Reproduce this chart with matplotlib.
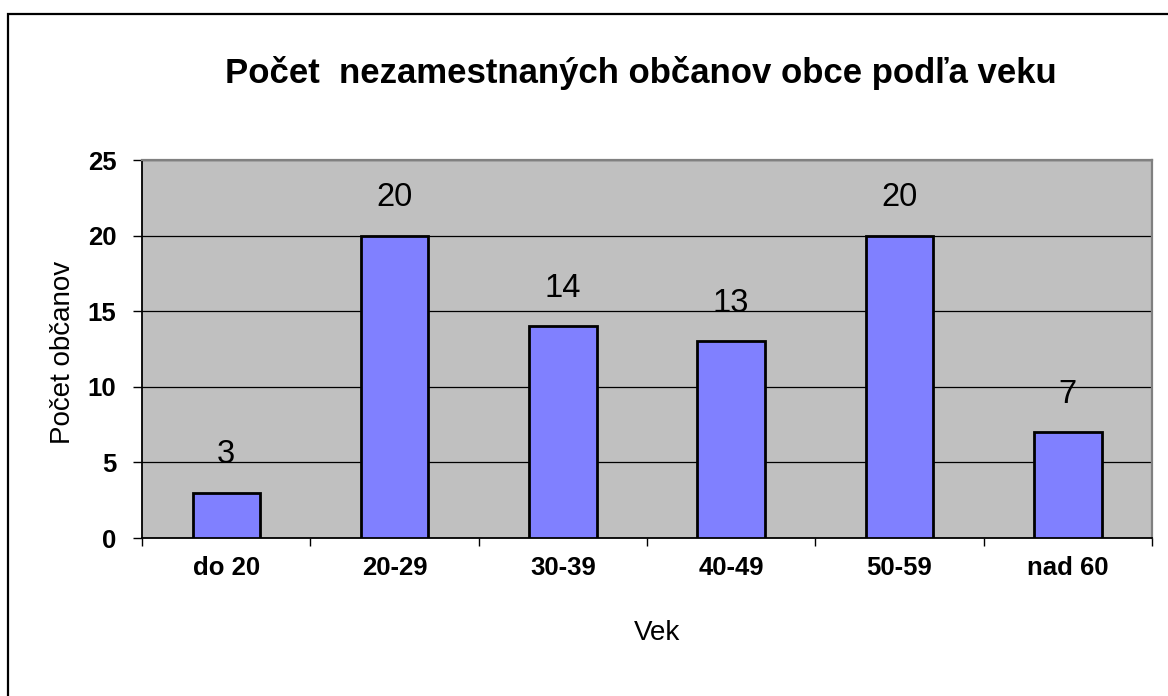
import matplotlib
matplotlib.use("Agg")
import matplotlib.pyplot as plt
from matplotlib.patches import Rectangle
from matplotlib.ticker import FixedLocator

categories = ["do 20", "20-29", "30-39", "40-49", "50-59", "nad 60"]
values = [3, 20, 14, 13, 20, 7]
y_ticks = [0, 5, 10, 15, 20, 25]
title = "Počet  nezamestnaných občanov obce podľa veku"
x_label = "Vek"
y_label = "Počet občanov"

plt.rcParams['font.family'] = ['Liberation Sans', 'DejaVu Sans']

W, H = 1168, 696
fig = plt.figure(figsize=(W / 100, H / 100), dpi=100)
fig.patch.set_facecolor('white')

# outer chart frame (extends past right/bottom edge)
fig.patches.append(Rectangle((8 / W, -0.5), 2.0, 1 - 14 / H + 0.5,
                             transform=fig.transFigure, fill=False,
                             edgecolor='black', linewidth=1.6, zorder=0))

left, right, top, bottom = 142, 1152, 160, 538
ax = fig.add_axes([left / W, 1 - bottom / H, (right - left) / W, (bottom - top) / H])
ax.set_facecolor('#C0C0C0')

x = list(range(len(categories)))
bars = ax.bar(x, values, width=0.4, color='#8080FF', edgecolor='black',
              linewidth=2.0, zorder=3)

for xi, v in zip(x, values):
    ax.annotate(str(v), (xi, v), xytext=(0, 21), textcoords='offset points',
                ha='center', va='baseline', fontsize=23.5, color='black', zorder=4)

ax.set_xlim(-0.5, len(categories) - 0.5)
ax.set_ylim(y_ticks[0], y_ticks[-1])
ax.set_yticks(y_ticks)
ax.set_yticklabels([str(t) for t in y_ticks], fontsize=18.5, fontweight='bold')
ax.set_xticks(x)
ax.set_xticklabels(categories, fontsize=18.5, fontweight='bold')
ax.xaxis.set_minor_locator(FixedLocator([i - 0.5 for i in range(len(categories) + 1)]))
ax.tick_params(axis='x', which='major', length=0, pad=13)
ax.tick_params(axis='x', which='minor', length=6, width=1.0, color='black', direction='out')
ax.tick_params(axis='y', which='major', length=6.5, width=1.0, color='black', pad=12, direction='out')

ax.yaxis.grid(True, color='black', linewidth=0.9, zorder=1)
ax.set_axisbelow(True)

for s in ['left', 'bottom']:
    ax.spines[s].set_color('black')
    ax.spines[s].set_linewidth(1.3)
for s in ['top', 'right']:
    ax.spines[s].set_color('#808080')
    ax.spines[s].set_linewidth(1.6)

fig.text(641 / W, 1 - 83 / H, title, ha='center', va='baseline',
         fontsize=25, fontweight='bold')
fig.text(657 / W, 1 - 633 / H, x_label, ha='center', va='center', fontsize=20)
fig.text(63 / W, 1 - 352 / H, y_label, ha='center', va='center', rotation=90, fontsize=20)

fig.savefig("out.png", dpi=100)
